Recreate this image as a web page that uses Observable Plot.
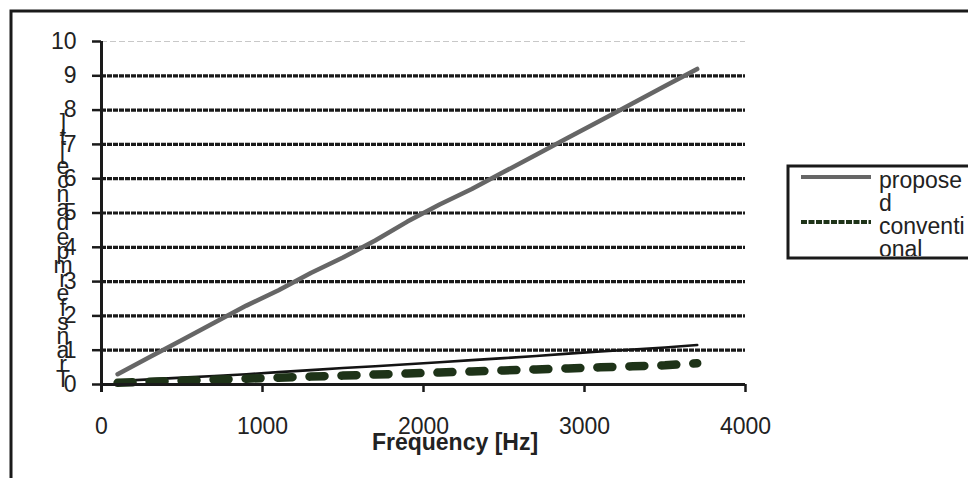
<!DOCTYPE html>
<html>
<head>
<meta charset="utf-8">
<script src="https://cdn.jsdelivr.net/npm/d3@7"></script>
<script src="https://cdn.jsdelivr.net/npm/@observablehq/plot@0.6"></script>
<style>
  html, body { margin: 0; padding: 0; background: #fff; }
  #chart { width: 968px; height: 478px; overflow: hidden; }
  svg { font-family: "Liberation Sans", Arial, sans-serif; }
</style>
</head>
<body>
<div id="chart"></div>
<script>
// ---- data ----
const freq = [100, 300, 500, 700, 900, 1100, 1300, 1500, 1700, 1900, 2100, 2300, 2500, 2700, 2900, 3100, 3300, 3500, 3700];
const proposed = [0.3, 0.8, 1.3, 1.8, 2.3, 2.75, 3.25, 3.7, 4.2, 4.75, 5.25, 5.7, 6.2, 6.7, 7.2, 7.7, 8.2, 8.7, 9.2];
const reference = [0.1, 0.15, 0.2, 0.25, 0.3, 0.36, 0.42, 0.48, 0.53, 0.59, 0.65, 0.71, 0.77, 0.83, 0.9, 0.96, 1.02, 1.08, 1.15];
const conventional = [0.05, 0.08, 0.11, 0.14, 0.17, 0.2, 0.23, 0.26, 0.29, 0.32, 0.35, 0.38, 0.41, 0.44, 0.47, 0.5, 0.53, 0.56, 0.62];
const xTicks = [0, 1000, 2000, 3000, 4000];
const yTicks = [0, 1, 2, 3, 4, 5, 6, 7, 8, 9, 10];
const gridDark = [1, 2, 3, 4, 5, 6, 7, 8, 9];
const gridLight = [10];
const xLabel = "Frequency [Hz]";
const yLabelChars = ["]", "t", "[", "e", "c", "n", "a", "d", "e", "p", "m", "r", "e", "f", "s", "n", "a", "r", "T"];
const legendNames = [["propose", "d"], ["conventi", "onal"]];

const rows = (vals) => freq.map((f, i) => ({f, v: vals[i]}));

const plot = Plot.plot({
  width: 968,
  height: 478,
  marginLeft: 101,
  marginRight: 223,
  marginTop: 41,
  marginBottom: 94,
  style: {fontFamily: "'Liberation Sans', Arial, sans-serif", fontSize: "23px", color: "#222", background: "#fff"},
  x: {domain: [0, 4000]},
  y: {domain: [0, 10]},
  marks: [
    Plot.ruleY(gridLight, {stroke: "#c8c8c8", strokeWidth: 1, strokeDasharray: "6,3"}),
    Plot.ruleY(gridDark, {stroke: "#1a1a1a", strokeWidth: 3.2, strokeDasharray: "5,1"}),
    Plot.line(rows(reference), {x: "f", y: "v", stroke: "#141414", strokeWidth: 2.6}),
    Plot.line(rows(conventional), {x: "f", y: "v", stroke: "#1e3318", strokeWidth: 8.5, strokeDasharray: "15,17", strokeLinecap: "round"}),
    Plot.line(rows(proposed), {x: "f", y: "v", stroke: "#666", strokeWidth: 4.5}),
    Plot.axisY({ticks: yTicks, tickSize: 9, tickPadding: 16, tickFormat: d => String(d), fontSize: 23, stroke: "#1a1a1a", strokeWidth: 2.5, label: null, color: "#222"}),
    Plot.axisX({ticks: xTicks, tickSize: 8, tickPadding: 25, tickFormat: d => String(d), fontSize: 23, stroke: "#1a1a1a", strokeWidth: 2.5, label: null}),
    Plot.ruleY([0], {stroke: "#1a1a1a", strokeWidth: 3}),
    Plot.ruleX([0], {stroke: "#1a1a1a", strokeWidth: 3, insetBottom: -8})
  ]
});
document.getElementById("chart").appendChild(plot);

const svg = d3.select(plot);
// outer frame
svg.append("rect").attr("x", 11).attr("y", 11).attr("width", 1100).attr("height", 600)
  .attr("fill", "none").attr("stroke", "#1a1a1a").attr("stroke-width", 3);

// x title
svg.append("text").attr("x", 455).attr("y", 450).attr("text-anchor", "middle")
  .attr("font-size", 23).attr("font-weight", "bold").attr("fill", "#222").text(xLabel);

// y title: stacked characters
const yt = svg.append("text").attr("font-size", 23).attr("fill", "#222").attr("text-anchor", "middle");
yLabelChars.forEach((c, i) => {
  yt.append("tspan").attr("x", 63).attr("y", 131 + i * 14.2).text(c);
});

// legend
const lg = svg.append("g");
lg.append("clipPath").attr("id", "lgclip").append("rect").attr("x", 789).attr("y", 167).attr("width", 300).attr("height", 89);
lg.append("rect").attr("x", 788).attr("y", 166).attr("width", 300).attr("height", 92)
  .attr("fill", "#fff").attr("stroke", "#1a1a1a").attr("stroke-width", 3);
const lgc = lg.append("g").attr("clip-path", "url(#lgclip)");
lgc.append("line").attr("x1", 801).attr("x2", 871).attr("y1", 177).attr("y2", 177).attr("stroke", "#666").attr("stroke-width", 4);
lgc.append("line").attr("x1", 801).attr("x2", 871).attr("y1", 222).attr("y2", 222).attr("stroke", "#1e3318").attr("stroke-width", 4).attr("stroke-dasharray", "6,1.5");
const baselines = [[188, 211], [234, 257]];
legendNames.forEach((lines, i) => {
  lines.forEach((t, j) => {
    lgc.append("text").attr("x", 879).attr("y", baselines[i][j]).attr("text-anchor", "start")
      .attr("font-size", 23).attr("fill", "#222").text(t);
  });
});
</script>
</body>
</html>
